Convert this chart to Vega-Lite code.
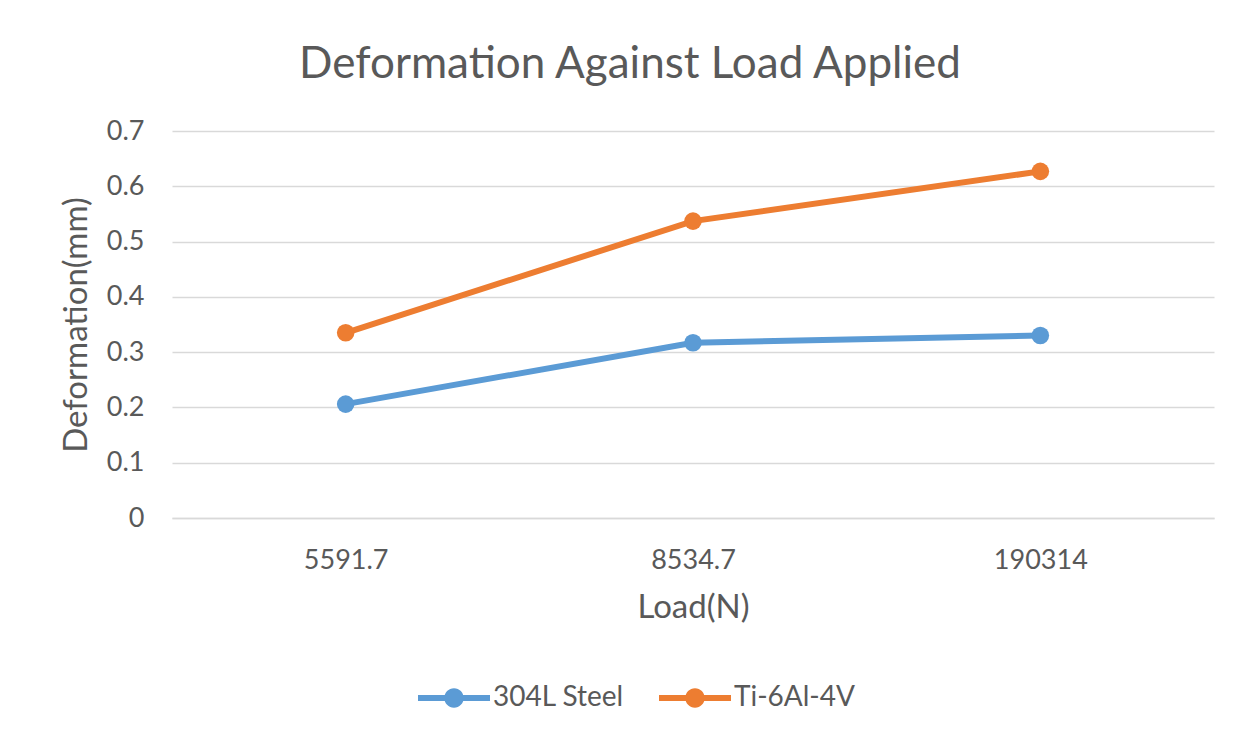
{
  "$schema": "https://vega.github.io/schema/vega-lite/v6.json",
  "width": 1042,
  "height": 387,
  "autosize": {"type": "none"},
  "padding": {"left": 172, "top": 131, "right": 37, "bottom": 230},
  "background": "white",
  "title": {
    "text": "Deformation Against Load Applied",
    "font": "Lato",
    "fontSize": 44,
    "fontWeight": "normal",
    "color": "#595959",
    "anchor": "middle",
    "dx": -63,
    "offset": 30
  },
  "data": {
    "values": [
      {"Load": "5591.7", "Material": "304L Steel", "Deformation": 0.206},
      {"Load": "8534.7", "Material": "304L Steel", "Deformation": 0.317},
      {"Load": "190314", "Material": "304L Steel", "Deformation": 0.330},
      {"Load": "5591.7", "Material": "Ti-6Al-4V", "Deformation": 0.335},
      {"Load": "8534.7", "Material": "Ti-6Al-4V", "Deformation": 0.537},
      {"Load": "190314", "Material": "Ti-6Al-4V", "Deformation": 0.627}
    ]
  },
  "encoding": {
    "x": {
      "field": "Load",
      "type": "ordinal",
      "sort": ["5591.7", "8534.7", "190314"],
      "scale": {"type": "point", "padding": 0.5},
      "axis": {
        "title": "Load(N)",
        "labelAngle": 0,
        "ticks": false,
        "domain": true,
        "domainColor": "#D9D9D9",
        "domainWidth": 1.5,
        "grid": false,
        "labelPadding": 29,
        "titlePadding": 18
      }
    },
    "y": {
      "field": "Deformation",
      "type": "quantitative",
      "scale": {"domain": [0, 0.7], "nice": false},
      "axis": {
        "title": "Deformation(mm)",
        "values": [0, 0.1, 0.2, 0.3, 0.4, 0.5, 0.6, 0.7],
        "format": "~g",
        "ticks": false,
        "domain": false,
        "grid": true,
        "gridColor": "#D9D9D9",
        "gridWidth": 1.5,
        "labelPadding": 28,
        "titlePadding": 13
      }
    },
    "color": {
      "field": "Material",
      "type": "nominal",
      "scale": {"domain": ["304L Steel", "Ti-6Al-4V"], "range": ["#5B9BD5", "#ED7D31"]},
      "legend": {
        "title": null,
        "orient": "none",
        "direction": "horizontal",
        "legendX": 246,
        "legendY": 531,
        "symbolType": "M-1,-0.085H1V0.085H-1Z M-0.27,0A0.27,0.27 0 1 1 0.27,0A0.27,0.27 0 1 1 -0.27,0Z",
        "symbolSize": 5184,
        "symbolStrokeWidth": 0,
        "symbolOpacity": 1,
        "labelOffset": 3,
        "columnPadding": 35,
        "labelFontSize": 28,
        "labelFont": "Lato",
        "labelColor": "#595959"
      }
    }
  },
  "layer": [
    {"mark": {"type": "line", "strokeWidth": 6}},
    {"mark": {"type": "point", "filled": true, "size": 310, "opacity": 1}}
  ],
  "config": {
    "view": {"stroke": null},
    "axis": {
      "labelFont": "Lato",
      "labelFontSize": 27,
      "labelColor": "#595959",
      "titleFont": "Lato",
      "titleFontSize": 33,
      "titleFontWeight": "normal",
      "titleColor": "#595959"
    },
    "legend": {"symbolFillColor": null}
  }
}
